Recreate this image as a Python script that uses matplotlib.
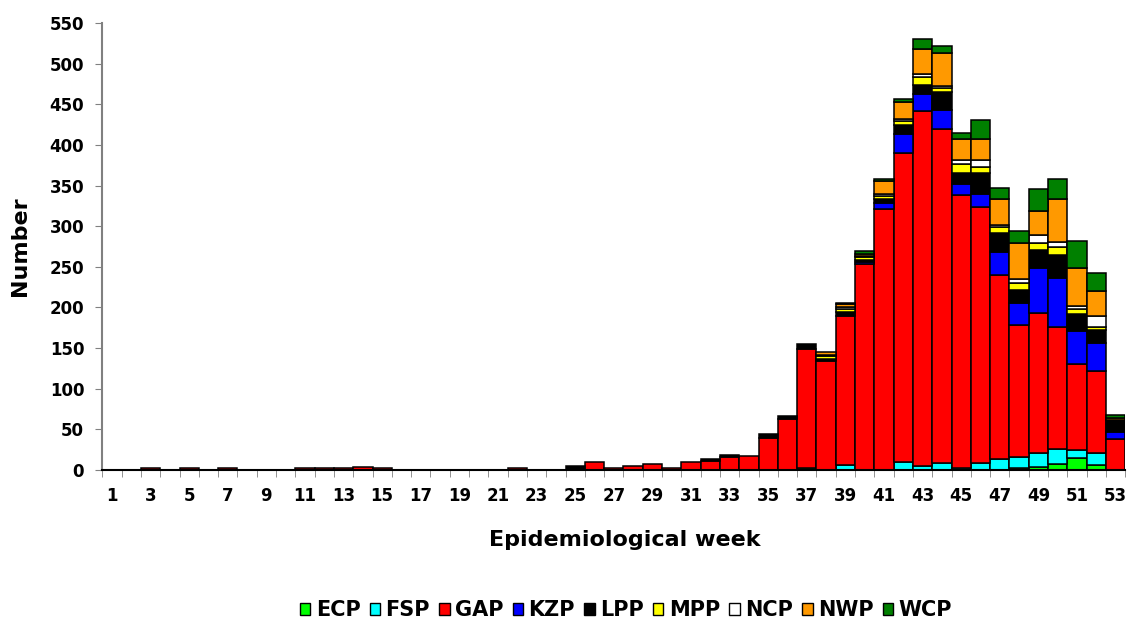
import numpy as np
import matplotlib
matplotlib.use('Agg')
import matplotlib.pyplot as plt
from matplotlib.patches import Patch

weeks = np.arange(1, 54)
provinces = ['ECP', 'FSP', 'GAP', 'KZP', 'LPP', 'MPP', 'NCP', 'NWP', 'WCP']
colors = ['#00ff00', '#00ffff', '#ff0000', '#0000ff', '#000000',
          '#ffff00', '#ffffff', '#ff9900', '#008000']

# cases per week (weeks 1..53)
ECP = [0, 0, 0, 0, 0, 0, 0, 0, 0, 0,  0, 0, 0, 0, 0, 0, 0, 0, 0, 0,
       0, 0, 0, 0, 0, 0, 0, 0, 0, 0,  0, 0, 0, 0, 0, 0, 2, 0, 0, 0,
       0, 0, 0, 0, 0, 0, 0, 3, 4, 7,  15, 6, 0]
FSP = [0, 0, 0, 0, 0, 0, 0, 0, 0, 0,  0, 0, 0, 0, 0, 0, 0, 0, 0, 0,
       0, 0, 0, 0, 0, 0, 0, 0, 0, 0,  0, 0, 0, 0, 0, 0, 0, 0, 6, 0,
       0, 10, 5, 8, 3, 8, 13, 13, 17, 19,  10, 15, 0]
GAP = [0, 0, 2, 0, 2, 0, 2, 0, 0, 0,  2, 2, 2, 4, 2, 0, 0, 0, 0, 0,
       0, 2, 0, 0, 0, 10, 2, 5, 7, 2,  10, 11, 16, 17, 39, 63, 147, 134, 184, 253,
       321, 380, 437, 411, 335, 316, 227, 162, 172, 150,  106, 101, 38]
KZP = [0, 0, 0, 0, 0, 0, 0, 0, 0, 0,  0, 0, 0, 0, 0, 0, 0, 0, 0, 0,
       0, 0, 0, 0, 0, 0, 0, 0, 0, 0,  0, 0, 0, 0, 0, 0, 0, 0, 0, 3,
       7, 24, 21, 24, 14, 16, 28, 28, 56, 60,  40, 34, 9]
LPP = [0, 0, 0, 0, 0, 0, 0, 0, 0, 0,  0, 0, 0, 0, 0, 0, 0, 0, 0, 0,
       0, 0, 0, 0, 5, 0, 0, 0, 0, 0,  0, 3, 3, 0, 5, 3, 6, 3, 4, 3,
       6, 11, 11, 22, 14, 25, 23, 16, 22, 28,  21, 16, 14]
MPP = [0, 0, 0, 0, 0, 0, 0, 0, 0, 0,  0, 0, 0, 0, 0, 0, 0, 0, 0, 0,
       0, 0, 0, 0, 0, 0, 0, 0, 0, 0,  0, 0, 0, 0, 0, 0, 0, 3, 4, 3,
       3, 4, 9, 5, 11, 8, 8, 8, 8, 11,  6, 4, 1]
NCP = [0, 0, 0, 0, 0, 0, 0, 0, 0, 0,  0, 0, 0, 0, 0, 0, 0, 0, 0, 0,
       0, 0, 0, 0, 0, 0, 0, 0, 0, 0,  0, 0, 0, 0, 0, 0, 0, 1, 2, 1,
       2, 3, 4, 2, 4, 9, 3, 5, 10, 6,  4, 13, 0]
NWP = [0, 0, 0, 0, 0, 0, 0, 0, 0, 0,  0, 0, 0, 0, 0, 0, 0, 0, 0, 0,
       0, 0, 0, 0, 0, 0, 0, 0, 0, 0,  0, 0, 0, 0, 0, 0, 0, 4, 4, 3,
       16, 21, 31, 41, 26, 25, 31, 44, 30, 52,  47, 31, 2]
WCP = [0, 0, 0, 0, 0, 0, 0, 0, 0, 0,  0, 0, 0, 0, 0, 0, 0, 0, 0, 0,
       0, 0, 0, 0, 0, 0, 0, 0, 0, 0,  0, 0, 0, 0, 0, 0, 0, 0, 2, 4,
       3, 4, 12, 9, 8, 24, 14, 15, 27, 25,  33, 23, 4]

series = [ECP, FSP, GAP, KZP, LPP, MPP, NCP, NWP, WCP]

plt.rcParams['font.family'] = 'DejaVu Sans'
plt.rcParams['font.weight'] = 'bold'

fig = plt.figure(figsize=(11.33, 6.23), dpi=100)
ax = fig.add_axes([102.3 / 1133, 1 - 470 / 623, 1023 / 1133, 447 / 623])

bottom = np.zeros(len(weeks))
for name, vals, col in zip(provinces, series, colors):
    vals = np.array(vals, dtype=float)
    nz = vals > 0  # skip empty segments so they don't draw extra outlines
    ax.bar(weeks[nz], vals[nz], width=1.0, bottom=bottom[nz], color=col,
           edgecolor='black', linewidth=1.1, label=name)
    bottom += vals

ax.set_xlim(0.5, 53.5)
ax.set_ylim(0, 550)
ax.set_yticks(np.arange(0, 551, 50))
ax.set_xticks(weeks[::2])
ax.set_xticklabels([str(w) for w in weeks[::2]])
ax.set_xticks(np.arange(0.5, 54, 1), minor=True)
ax.tick_params(axis='x', which='major', length=0, pad=12, labelsize=12)
ax.tick_params(axis='x', which='minor', length=5, color='#808080')
ax.tick_params(axis='y', length=5, color='#808080', pad=8, labelsize=12)

for s in ['top', 'right']:
    ax.spines[s].set_visible(False)
ax.spines['left'].set_color('#808080')
ax.spines['left'].set_linewidth(1.5)
ax.spines['bottom'].set_color('black')
ax.spines['bottom'].set_linewidth(1.5)

ax.set_ylabel('Number', fontsize=16, fontweight='bold')
ax.yaxis.set_label_coords(-0.0707, 0.5)
ax.set_xlabel('Epidemiological week', fontsize=16, fontweight='bold', va='center')
ax.xaxis.set_label_coords(0.511, -0.157)

handles = [Patch(facecolor=c, edgecolor='black', linewidth=1.0) for c in colors]
fig.legend(handles, provinces, loc='center', bbox_to_anchor=(626 / 1133, 1 - 610 / 623),
           ncol=9, frameon=False, fontsize=15, handlelength=0.5, handleheight=0.5,
           handletextpad=0.25, columnspacing=0.45, borderpad=0.2)

fig.savefig('out.png', dpi=100)
